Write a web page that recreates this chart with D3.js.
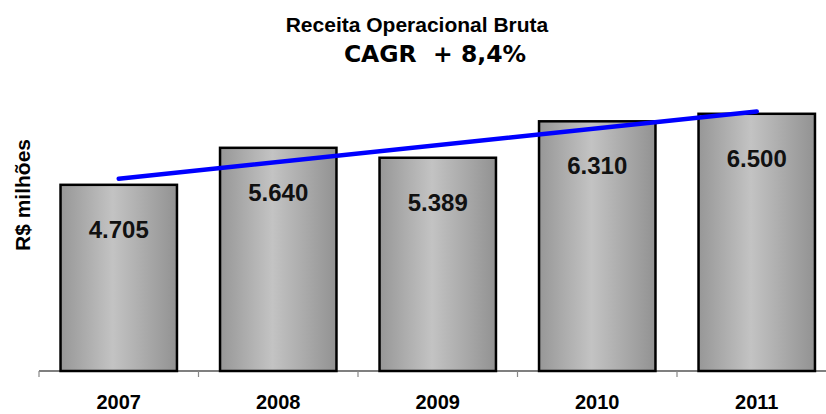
<!DOCTYPE html>
<html>
  <head>
    <meta charset="utf-8">
    <title>Receita Operacional Bruta</title>
    <style>
      body { margin: 0; background: #fff; }
      text { font-family: "Liberation Sans", Arial, sans-serif; font-weight: bold; }
    </style>
  </head>
  <body>
    <div id="container"></div>
    <script src="https://d3js.org/d3.v7.min.js"></script>
    <script>

      // DATA
      var years = ["2007", "2008", "2009", "2010", "2011"];
      var values = [4705, 5640, 5389, 6310, 6500];
      var valueLabels = ["4.705", "5.640", "5.389", "6.310", "6.500"];
      // trend line end points, at 2007 and 2011
      var trendYears = ["2007", "2011"];
      var trendValues = [4860, 6560];

      var width = 826, height = 414;

      var svg = d3.select("#container")
        .append("svg")
        .attr("width", width)
        .attr("height", height);

      // GRADIENT FOR BARS
      var grad = svg.append("defs").append("linearGradient")
        .attr("id", "barGrad")
        .attr("x1", "0%").attr("x2", "100%")
        .attr("y1", "0%").attr("y2", "0%");
      grad.append("stop").attr("offset", "0%").attr("stop-color", "#979797");
      grad.append("stop").attr("offset", "45%").attr("stop-color", "#c3c3c3");
      grad.append("stop").attr("offset", "100%").attr("stop-color", "#929292");

      // SCALES
      var x = d3.scaleBand()
        .domain(years)
        .range([39, 39 + 5 * 159.5])
        .paddingInner(0.27)
        .paddingOuter(0.135);

      var y = d3.scaleLinear()
        .domain([0, 7000])
        .range([371, 94]);

      // X AXIS
      var xAxis = svg.append("g")
        .attr("transform", "translate(0,371)")
        .call(d3.axisBottom(x).tickSize(0).tickFormat(""));
      xAxis.select(".domain").remove();
      xAxis.append("line")
        .attr("x1", 39).attr("x2", 39 + 5 * 159.5)
        .attr("stroke", "#000").attr("stroke-width", 1.2);
      var edges = d3.range(years.length + 1).map(i => x.step() * i + 39);
      xAxis.selectAll(".edge")
        .data(edges)
        .enter().append("line")
        .attr("x1", d => d).attr("x2", d => d)
        .attr("y1", 0).attr("y2", 6)
        .attr("stroke", "#888").attr("stroke-width", 1.2);

      // YEAR LABELS
      svg.selectAll(".year")
        .data(years)
        .enter().append("text")
        .attr("x", d => x(d) + x.bandwidth() / 2)
        .attr("y", 409)
        .attr("text-anchor", "middle")
        .attr("font-size", 20)
        .text(d => d);

      // BARS
      svg.selectAll(".bar")
        .data(values)
        .enter().append("rect")
        .attr("x", (d, i) => x(years[i]))
        .attr("y", d => y(d))
        .attr("width", x.bandwidth())
        .attr("height", d => y(0) - y(d))
        .attr("fill", "url(#barGrad)")
        .attr("stroke", "#000")
        .attr("stroke-width", 2.5);

      // VALUE LABELS
      svg.selectAll(".val")
        .data(values)
        .enter().append("text")
        .attr("x", (d, i) => x(years[i]) + x.bandwidth() / 2)
        .attr("y", d => y(d) + 53)
        .attr("text-anchor", "middle")
        .attr("font-size", 24)
        .attr("fill", "#111")
        .text((d, i) => valueLabels[i]);

      // TREND LINE
      svg.append("path")
        .datum(trendValues)
        .attr("fill", "none")
        .attr("stroke", "#0000ff")
        .attr("stroke-width", 4.5)
        .attr("stroke-linecap", "round")
        .attr("d", d3.line()
          .x((d, i) => x(trendYears[i]) + x.bandwidth() / 2)
          .y(d => y(d)));

      // Y LABEL
      svg.append("text")
        .attr("transform", "translate(30,195) rotate(-90)")
        .attr("text-anchor", "middle")
        .attr("font-size", 21)
        .text("R$ milhões");

      // TITLE
      svg.append("text")
        .attr("x", 417)
        .attr("y", 32)
        .attr("text-anchor", "middle")
        .attr("font-size", 21)
        .text("Receita Operacional Bruta");
      svg.append("text")
        .attr("x", 435)
        .attr("y", 62)
        .attr("text-anchor", "middle")
        .attr("font-size", 23.5)
        .style("font-family", "'DejaVu Sans', Verdana, sans-serif")
        .style("white-space", "pre")
        .text("CAGR  + 8,4%");

    </script>
  </body>
</html>
